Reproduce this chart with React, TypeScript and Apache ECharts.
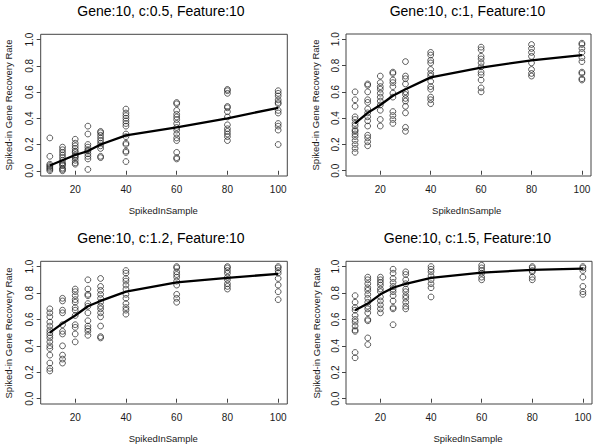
import React, { useEffect, useRef } from "react";
import * as echarts from "echarts";

const xValues = [10, 15, 20, 25, 30, 40, 60, 80, 100];
const xTicks = [20, 40, 60, 80, 100];
const yTicks = [0, 0.2, 0.4, 0.6, 0.8, 1.0];
const titles = [
  "Gene:10, c:0.5, Feature:10",
  "Gene:10, c:1, Feature:10",
  "Gene:10, c:1.2, Feature:10",
  "Gene:10, c:1.5, Feature:10",
];
const xName = "SpikedInSample";
const yName = "Spiked-in Gene Recovery Rate";

// points per x value, panel c:0.5
const pointsC05 = [
  [0.25, 0.11, 0.05, 0.04, 0.03, 0.02, 0.01, 0.0],
  [0.18, 0.16, 0.14, 0.12, 0.1, 0.08, 0.06, 0.05, 0.04, 0.02, 0.01, 0.0],
  [0.24, 0.21, 0.19, 0.17, 0.15, 0.14, 0.12, 0.11, 0.1, 0.08, 0.06, 0.05],
  [0.34, 0.28, 0.2, 0.18, 0.16, 0.15, 0.13, 0.11, 0.09, 0.01],
  [0.3, 0.29, 0.27, 0.25, 0.23, 0.21, 0.19, 0.17, 0.11, 0.1],
  [0.47, 0.44, 0.42, 0.4, 0.38, 0.36, 0.34, 0.28, 0.26, 0.21, 0.2, 0.15, 0.14, 0.07],
  [0.52, 0.51, 0.46, 0.43, 0.41, 0.39, 0.36, 0.33, 0.31, 0.28, 0.25, 0.23, 0.14, 0.1, 0.09],
  [0.62, 0.61, 0.59, 0.49, 0.48, 0.45, 0.41, 0.35, 0.32, 0.3, 0.28, 0.26, 0.23],
  [0.61, 0.59, 0.57, 0.54, 0.52, 0.51, 0.46, 0.44, 0.36, 0.34, 0.31, 0.2],
];
const lineC05 = [0.04, 0.08, 0.12, 0.15, 0.2, 0.27, 0.33, 0.4, 0.48];

const pointsC1 = [
  [0.6, 0.54, 0.49, 0.41, 0.39, 0.36, 0.34, 0.31, 0.3, 0.28, 0.26, 0.23, 0.2, 0.17, 0.14],
  [0.66, 0.65, 0.6, 0.54, 0.52, 0.47, 0.44, 0.41, 0.38, 0.34, 0.27, 0.25, 0.22, 0.19],
  [0.72, 0.67, 0.64, 0.62, 0.59, 0.56, 0.53, 0.5, 0.46, 0.39, 0.34],
  [0.75, 0.74, 0.69, 0.67, 0.64, 0.59, 0.56, 0.45, 0.42, 0.39, 0.36],
  [0.83, 0.72, 0.7, 0.66, 0.6, 0.58, 0.55, 0.53, 0.49, 0.44, 0.33, 0.3],
  [0.9, 0.88, 0.84, 0.82, 0.77, 0.74, 0.72, 0.68, 0.64, 0.62, 0.56, 0.54, 0.51],
  [0.94, 0.92, 0.87, 0.85, 0.82, 0.79, 0.75, 0.73, 0.69, 0.63, 0.6],
  [0.96, 0.93, 0.9, 0.87, 0.82, 0.77, 0.74, 0.72],
  [0.97, 0.96, 0.93, 0.9, 0.86, 0.83, 0.75, 0.74, 0.7, 0.69],
];
const lineC1 = [0.36, 0.44, 0.5, 0.57, 0.62, 0.71, 0.785, 0.84, 0.88];

const pointsC12 = [
  [0.68, 0.65, 0.62, 0.58, 0.55, 0.52, 0.5, 0.48, 0.46, 0.43, 0.4, 0.38, 0.33, 0.27, 0.23, 0.21],
  [0.76, 0.74, 0.67, 0.65, 0.56, 0.51, 0.49, 0.4, 0.33, 0.3, 0.27],
  [0.83, 0.81, 0.78, 0.75, 0.73, 0.69, 0.67, 0.63, 0.56, 0.54, 0.49, 0.43],
  [0.9, 0.83, 0.79, 0.78, 0.72, 0.7, 0.65, 0.59, 0.55, 0.53, 0.51, 0.48],
  [0.91, 0.85, 0.82, 0.79, 0.76, 0.73, 0.7, 0.68, 0.65, 0.62, 0.55, 0.47, 0.46],
  [0.97, 0.95, 0.91, 0.89, 0.86, 0.83, 0.79, 0.76, 0.72, 0.69, 0.67, 0.64],
  [1.0, 0.99, 0.96, 0.94, 0.92, 0.89, 0.86, 0.79, 0.76, 0.73],
  [1.0, 0.99, 0.97, 0.95, 0.92, 0.9, 0.87, 0.85, 0.83],
  [1.0, 0.99, 0.97, 0.95, 0.91, 0.86, 0.81, 0.75],
];
const lineC12 = [0.5, 0.57, 0.63, 0.7, 0.74, 0.81, 0.88, 0.915, 0.945];

const pointsC15 = [
  [0.78, 0.73, 0.69, 0.67, 0.63, 0.6, 0.58, 0.55, 0.52, 0.51, 0.35, 0.31],
  [0.92, 0.9, 0.87, 0.84, 0.82, 0.79, 0.76, 0.73, 0.7, 0.68, 0.65, 0.6, 0.59, 0.46, 0.41],
  [0.92, 0.9, 0.88, 0.86, 0.83, 0.81, 0.77, 0.74, 0.71, 0.68, 0.65],
  [0.98, 0.95, 0.91, 0.88, 0.85, 0.83, 0.81, 0.78, 0.74, 0.69, 0.68, 0.56],
  [0.96, 0.94, 0.9, 0.87, 0.83, 0.81, 0.78, 0.76, 0.73, 0.7, 0.68],
  [1.0, 0.98, 0.96, 0.93, 0.9, 0.87, 0.84, 0.77],
  [1.01, 0.99, 0.97, 0.95, 0.92, 0.9],
  [1.0, 0.99, 0.97, 0.96, 0.92, 0.9],
  [1.0, 0.99, 0.97, 0.92, 0.85, 0.81, 0.79],
];
const lineC15 = [0.67, 0.72, 0.79, 0.84, 0.87, 0.915, 0.955, 0.975, 0.985];

const panelPoints = [pointsC05, pointsC1, pointsC12, pointsC15];
const panelLines = [lineC05, lineC1, lineC12, lineC15];

const FONT = "'Liberation Sans', Arial, sans-serif";

const grids = [
  { left: 40.7, top: 34.3, width: 246.6, height: 141.7 },
  { left: 346, top: 34, width: 245, height: 142 },
  { left: 40.7, top: 261.3, width: 246.6, height: 142.7 },
  { left: 346, top: 261.3, width: 246, height: 142.7 },
];
const titlePos = [
  [161, 11],
  [467.5, 11],
  [161, 237.5],
  [467.5, 237.5],
];
const xNamePos = [
  [163.3, 210.7],
  [466.7, 210.7],
  [163.3, 438],
  [468, 438],
];
const yNamePos = [
  [8.3, 105],
  [315, 105],
  [8.5, 333],
  [316, 333],
];

function buildOption() {
  const axisColor = "#444";
  const grid: any[] = [];
  const xAxis: any[] = [];
  const yAxis: any[] = [];
  const series: any[] = [];
  const graphic: any[] = [];
  for (let i = 0; i < 4; i++) {
    grid.push({ ...grids[i], show: true, borderColor: axisColor, borderWidth: 1, backgroundColor: "transparent" });
    xAxis.push({
      type: "value",
      gridIndex: i,
      min: 6.4,
      max: 103.6,
      axisLine: { show: false },
      splitLine: { show: false },
      axisTick: { show: true, length: 4, inside: false, customValues: xTicks, lineStyle: { color: axisColor } },
      axisLabel: { show: true, customValues: xTicks, margin: 8, fontSize: 10, fontFamily: FONT, color: "#1a1a1a" },
    });
    yAxis.push({
      type: "value",
      gridIndex: i,
      min: -0.04,
      max: 1.04,
      axisLine: { show: false },
      splitLine: { show: false },
      axisTick: { show: true, length: 4, customValues: yTicks, lineStyle: { color: axisColor } },
      axisLabel: {
        show: true,
        customValues: yTicks,
        rotate: 90,
        margin: 6,
        fontSize: 10,
        fontFamily: FONT,
        color: "#1a1a1a",
        formatter: (v: number) => v.toFixed(1),
      },
    });
    const data: number[][] = [];
    panelPoints[i].forEach((vals, k) => {
      vals.forEach((v) => data.push([xValues[k], v]));
    });
    series.push({
      type: "scatter",
      xAxisIndex: i,
      yAxisIndex: i,
      data,
      symbol: "circle",
      symbolSize: 5.8,
      itemStyle: { color: "transparent", borderColor: "#222", borderWidth: 0.9 },
      silent: true,
    });
    series.push({
      type: "line",
      xAxisIndex: i,
      yAxisIndex: i,
      data: xValues.map((x, k) => [x, panelLines[i][k]]),
      showSymbol: false,
      lineStyle: { color: "#000", width: 2.3 },
      silent: true,
    });
    graphic.push({
      type: "text",
      x: titlePos[i][0],
      y: titlePos[i][1],
      style: { text: titles[i], fontSize: 14, fontFamily: FONT, fill: "#000", align: "center", verticalAlign: "middle" },
    });
    graphic.push({
      type: "text",
      x: xNamePos[i][0],
      y: xNamePos[i][1],
      style: { text: xName, fontSize: 9.5, fontFamily: FONT, fill: "#1a1a1a", align: "center", verticalAlign: "middle" },
    });
    graphic.push({
      type: "text",
      x: yNamePos[i][0],
      y: yNamePos[i][1],
      rotation: Math.PI / 2,
      style: { text: yName, fontSize: 9.5, fontFamily: FONT, fill: "#1a1a1a", align: "center", verticalAlign: "middle" },
    });
  }
  return { animation: false, backgroundColor: "#fff", grid, xAxis, yAxis, series, graphic };
}

export default function App() {
  const ref = useRef<HTMLDivElement>(null);
  useEffect(() => {
    if (!ref.current) return;
    const chart = echarts.init(ref.current, null, { renderer: "svg" });
    chart.setOption(buildOption() as any);
    return () => chart.dispose();
  }, []);
  return (
    <div
      ref={ref}
      style={{ position: "fixed", left: 0, top: 0, width: 600, height: 445, background: "#fff" }}
    />
  );
}
